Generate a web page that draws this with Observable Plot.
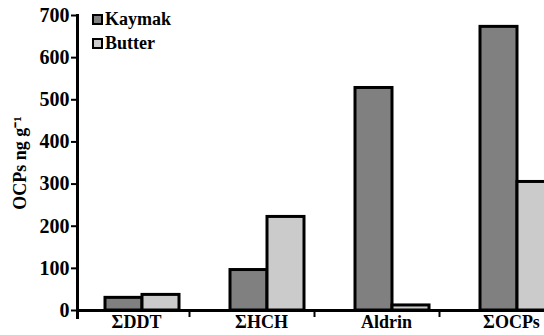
<!DOCTYPE html>
<html>
<head>
<meta charset="utf-8">
<script src="https://cdn.jsdelivr.net/npm/d3@7"></script>
<script src="https://cdn.jsdelivr.net/npm/@observablehq/plot@0.6"></script>
<style>
  html, body { margin: 0; padding: 0; background: #fff; overflow: hidden; width: 544px; height: 335px; }
  #wrap { position: relative; width: 544px; height: 335px; overflow: hidden; }
  #chart svg { max-width: none !important; }
  #legend { position: absolute; left: 92px; top: 7px; font-family: "Liberation Serif", "Times New Roman", Times, serif; font-weight: bold; font-size: 18px; color: #000; line-height: 24px; }
  #legend .row { display: flex; align-items: center; }
  #legend .sw { width: 7px; height: 7px; border: 2px solid #000; margin-right: 2px; }
</style>
</head>
<body>
<div id="wrap"><div id="chart"></div><div id="legend"></div></div>
<script>
const categories = ["ΣDDT", "ΣHCH", "Aldrin", "ΣOCPs"];
const series = ["Kaymak", "Butter"];
const kaymak = [30, 96, 528, 673];
const butter = [37, 222, 12, 305];
const colors = ["#808080", "#cbcbcb"];
const yTicks = [0, 100, 200, 300, 400, 500, 600, 700];
const yLabel = "OCPs ng g⁻¹";

const rows = categories.flatMap((c, i) => [
  {category: c, series: series[0], value: kaymak[i]},
  {category: c, series: series[1], value: butter[i]}
]);

const serif = '"Liberation Serif", "Times New Roman", Times, serif';
const half = 37;
const chart = Plot.plot({
  width: 582,
  height: 335,
  marginLeft: 77,
  marginRight: 0,
  marginTop: 15,
  marginBottom: 25,
  style: {fontFamily: serif, fontWeight: "bold", fontSize: "20px", color: "#000", background: "#fff", maxWidth: "none"},
  x: {domain: categories, paddingInner: 0.408, paddingOuter: 0.22},
  y: {domain: [0, 700]},
  color: {domain: series, range: colors},
  marks: [
    Plot.barY(rows.filter(d => d.series === series[0]), {x: "category", y: "value", fill: "series", stroke: "#000", strokeWidth: 3, insetRight: half}),
    Plot.barY(rows.filter(d => d.series === series[1]), {x: "category", y: "value", fill: "series", stroke: "#000", strokeWidth: 3, insetLeft: half}),
    Plot.ruleY([0], {stroke: "#000", strokeWidth: 3}),
    Plot.frame({anchor: "left", stroke: "#000", strokeWidth: 3, insetBottom: -7}),
    Plot.axisY({ticks: yTicks, tickSize: 6, tickPadding: 2, strokeWidth: 2, label: null, fontFamily: serif, fontSize: 20}),
    Plot.text([yLabel], {frameAnchor: "left", textAnchor: "middle", rotate: -90, dx: -57, fontFamily: serif, fontSize: 18, fontWeight: "bold"}),
    Plot.axisX({tickSize: 0, tickPadding: 5, dx: -6, label: null, fontFamily: serif, fontSize: 18}),
    Plot.axisX({tickSize: 7, tickFormat: () => "", dx: 47, strokeWidth: 2, label: null})
  ]
});
document.getElementById("chart").appendChild(chart);

const legend = document.getElementById("legend");
series.forEach((s, i) => {
  const row = document.createElement("div");
  row.className = "row";
  const sw = document.createElement("span");
  sw.className = "sw";
  sw.style.background = colors[i];
  row.appendChild(sw);
  row.appendChild(document.createTextNode(s));
  legend.appendChild(row);
});
</script>
</body>
</html>
